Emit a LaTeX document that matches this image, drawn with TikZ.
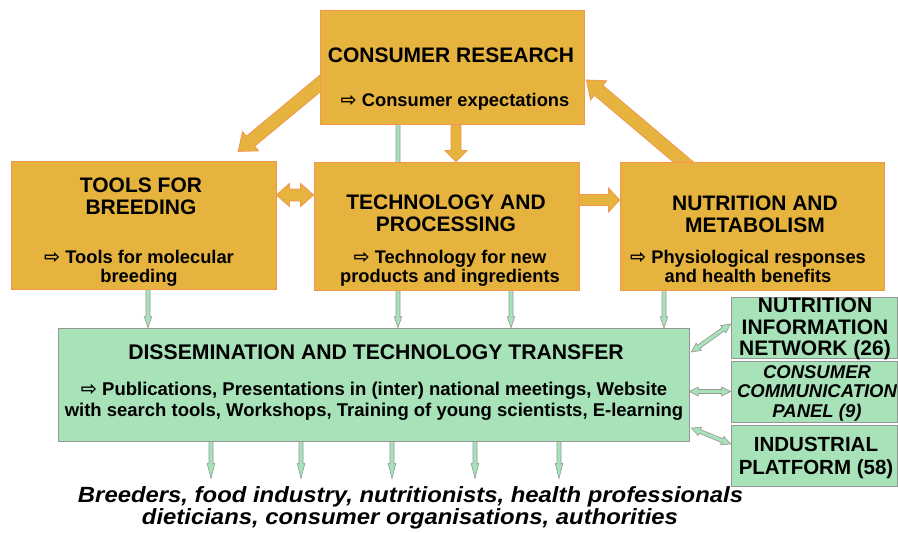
\documentclass[tikz,border=0pt]{standalone}
\usepackage{fontspec}
\usepackage{graphicx}
\setmainfont{Liberation Sans}
\newfontfamily\arrowfont{DejaVu Sans}
\usetikzlibrary{calc,backgrounds}

\definecolor{gold}{RGB}{229,179,62}
\definecolor{goldedge}{RGB}{242,150,80}
\definecolor{mint}{RGB}{167,226,184}
\definecolor{mintedge}{RGB}{150,150,150}

% font size with leading
\newcommand\fs[2]{\fontsize{#1}{#2}\selectfont}
% centred block of lines whose baseline is that of the first line
\newcommand\lines[1]{\begin{tabular}[t]{@{}c@{}}#1\end{tabular}}
% hollow arrow bullet
\newcommand\hollowarrow{\scalebox{1.05}{\arrowfont ⇨}\ }

% block arrow: style, from, to, shaft half width, head half width, head length
\newcommand\blockarrow[6]{%
  \path[#1] let \p1=(#2), \p2=(#3),
      \n1={atan2(\y2-\y1,\x2-\x1)}, \n2={veclen(\x2-\x1,\y2-\y1)} in
    {[shift={(\p1)}, rotate=\n1]
      (0pt,-#4) -- ({\n2-#6},-#4) -- ({\n2-#6},-#5) -- (\n2,0pt)
      -- ({\n2-#6},#5) -- ({\n2-#6},#4) -- (0pt,#4) -- cycle};}
% double-headed block arrow, same arguments
\newcommand\dblockarrow[6]{%
  \path[#1] let \p1=(#2), \p2=(#3),
      \n1={atan2(\y2-\y1,\x2-\x1)}, \n2={veclen(\x2-\x1,\y2-\y1)} in
    {[shift={(\p1)}, rotate=\n1]
      (0pt,0pt) -- (#6,#5) -- (#6,#4) -- ({\n2-#6},#4) -- ({\n2-#6},#5)
      -- (\n2,0pt) -- ({\n2-#6},-#5) -- ({\n2-#6},-#4) -- (#6,-#4)
      -- (#6,-#5) -- cycle};}

\tikzset{
  goldbox/.style={draw=goldedge, fill=gold, line width=0.8pt, inner sep=0pt},
  mintbox/.style={draw=mintedge, fill=mint, line width=0.8pt, inner sep=0pt},
  label/.style={anchor=base, inner sep=0pt, text=black},
  bigarrow/.style={draw=goldedge, fill=gold, line width=0.8pt, line join=miter},
  thinarrow/.style={draw=mintedge, fill=mint, line width=0.6pt, line join=miter},
}

\begin{document}
\begin{tikzpicture}[x=1pt, y=-1pt]
\useasboundingbox (0,0) rectangle (898,533);

% ---------- boxes ----------
\node[goldbox, minimum width=264pt, minimum height=114pt] (cr) at (452,67) {};
\node[goldbox, minimum width=265pt, minimum height=128pt] (tools) at (143.5,225) {};
\node[goldbox, minimum width=265pt, minimum height=128pt] (tech) at (446.5,226) {};
\node[goldbox, minimum width=264pt, minimum height=128pt] (nutr) at (752,226) {};
\node[mintbox, minimum width=631pt, minimum height=113pt] (dis) at (373.5,384.5) {};
\node[mintbox, minimum width=166pt, minimum height=61pt] (nin) at (814,327.5) {};
\node[mintbox, minimum width=166pt, minimum height=61pt] (ccp) at (814,391.5) {};
\node[mintbox, minimum width=166pt, minimum height=61pt] (ind) at (814,455.5) {};

% ---------- texts ----------
\node[label, font=\fs{21}{22}\bfseries] (crT) at (451,62) {\lines{CONSUMER RESEARCH}};
\node[label, font=\fs{18.3}{19}\bfseries] (crS) at (455,106) {\lines{\hollowarrow Consumer expectations}};

\node[label, font=\fs{21}{22}\bfseries] (toolsT) at (141,192) {\lines{TOOLS FOR\\BREEDING}};
\node[label, font=\fs{18.3}{19}\bfseries] (toolsS) at (139,263) {\lines{\hollowarrow Tools for molecular\\breeding}};

\node[label, font=\fs{21}{22.7}\bfseries] (techT) at (446,209) {\lines{TECHNOLOGY AND\\PROCESSING}};
\node[label, font=\fs{18.3}{19}\bfseries] (techS) at (450,263) {\lines{\hollowarrow Technology for new\\products and ingredients}};

\node[label, font=\fs{21}{22.5}\bfseries] (nutrT) at (755,210) {\lines{NUTRITION AND\\METABOLISM}};
\node[label, font=\fs{18.3}{19}\bfseries] (nutrS) at (748,263) {\lines{\hollowarrow Physiological responses\\and health benefits}};

\node[label, font=\fs{21.2}{22}\bfseries] (disT) at (376,359) {\lines{DISSEMINATION AND TECHNOLOGY TRANSFER}};
\node[label, font=\fs{18.5}{21}\bfseries] (disS) at (374,395)
  {\lines{\hollowarrow Publications, Presentations in (inter) national meetings, Website\\
   with search tools, Workshops, Training of young scientists, E-learning}};

\node[label, font=\fs{21}{21.5}\bfseries] (ninT) at (815,312.7) {\lines{NUTRITION\\INFORMATION\\NETWORK (26)}};
\node[label, font=\fs{18.5}{19.8}\bfseries\itshape] (ccpT) at (817,378) {\lines{CONSUMER\\COMMUNICATION\\PANEL (9)}};
\node[label, font=\fs{20.5}{23}\bfseries] (indT) at (816,451) {\lines{INDUSTRIAL\\PLATFORM (58)}};

\node[label] (aud1) at (410.5,502)
  {\resizebox{665pt}{\height}{\fs{22}{22}\bfseries\itshape Breeders, food industry, nutritionists, health professionals}};
\node[label] (aud2) at (410,524)
  {\resizebox{536pt}{\height}{\fs{22}{22}\bfseries\itshape dieticians, consumer organisations, authorities}};

% ---------- anchor points for connectors ----------
\coordinate (dg1) at ($(cr.west)+(15,4.5)$);
\coordinate (dg1t) at ($(tools.north)+(94.5,-9)$);
\coordinate (dg2) at ($(nutr.north)+(-61.4,6.5)$);
\coordinate (dg2t) at ($(cr.east)+(2,13)$);
\coordinate (dn) at ($(cr.south)+(4,0)$);
\coordinate (h1) at ($(tools.east)+(0,-30)$);
\coordinate (h2) at ($(tech.east)+(0,-26)$);

\coordinate (v0) at ($(cr.south)+(-54,0)$);
\coordinate (v1) at ($(tools.south)+(4.5,0)$);
\coordinate (v2) at ($(tech.south)+(64.5,0)$);
\coordinate (v3) at ($(nutr.south)+(-88,0)$);

\coordinate (o1) at ($(dis.south)+(-162.5,0)$);
\coordinate (o2) at ($(dis.south)+(-72.5,0)$);
\coordinate (o3) at ($(dis.south)+(18.5,0)$);
\coordinate (o4) at ($(dis.south)+(101.5,0)$);
\coordinate (o5) at ($(dis.south)+(185.5,0)$);
\foreach \i in {1,...,5} {\coordinate (e\i) at ($(o\i)+(0,37)$);}

\coordinate (s1) at ($(dis.east)+(2,-32.5)$);
\coordinate (s1t) at ($(nin.west)+(0,-3.5)$);
\coordinate (s3) at ($(dis.east)+(2,43.5)$);
\coordinate (s3t) at ($(ind.west)+(0,-11.5)$);

% ---------- connectors, behind the boxes ----------
\begin{pgfonlayer}{background}
  \blockarrow{bigarrow}{dg1}{dg1t}{6.5pt}{12.5pt}{16pt}
  \blockarrow{bigarrow}{dg2}{dg2t}{6.5pt}{12.5pt}{16pt}
  \blockarrow{bigarrow}{dn}{dn |- tech.north}{5pt}{11pt}{11pt}
  \dblockarrow{bigarrow}{h1}{h1 -| tech.west}{6pt}{11.5pt}{13pt}
  \blockarrow{bigarrow}{h2}{h2 -| nutr.west}{5.5pt}{12pt}{11pt}

  \blockarrow{thinarrow}{v0}{v0 |- dis.north}{2pt}{3.8pt}{11pt}
  \blockarrow{thinarrow}{v1}{v1 |- dis.north}{2pt}{3.8pt}{11pt}
  \blockarrow{thinarrow}{v2}{v2 |- dis.north}{2pt}{3.8pt}{11pt}
  \blockarrow{thinarrow}{v3}{v3 |- dis.north}{2pt}{3.8pt}{11pt}
  \foreach \i in {1,...,5} {%
    \blockarrow{thinarrow}{o\i}{e\i}{2pt}{3.8pt}{15pt}}

  \dblockarrow{thinarrow}{s1}{s1t}{2pt}{4.5pt}{9pt}
  \dblockarrow{thinarrow}{ccp.west -| dis.east}{ccp.west}{2pt}{4.5pt}{9pt}
  \dblockarrow{thinarrow}{s3}{s3t}{2pt}{4.5pt}{9pt}
\end{pgfonlayer}
\end{tikzpicture}
\end{document}
